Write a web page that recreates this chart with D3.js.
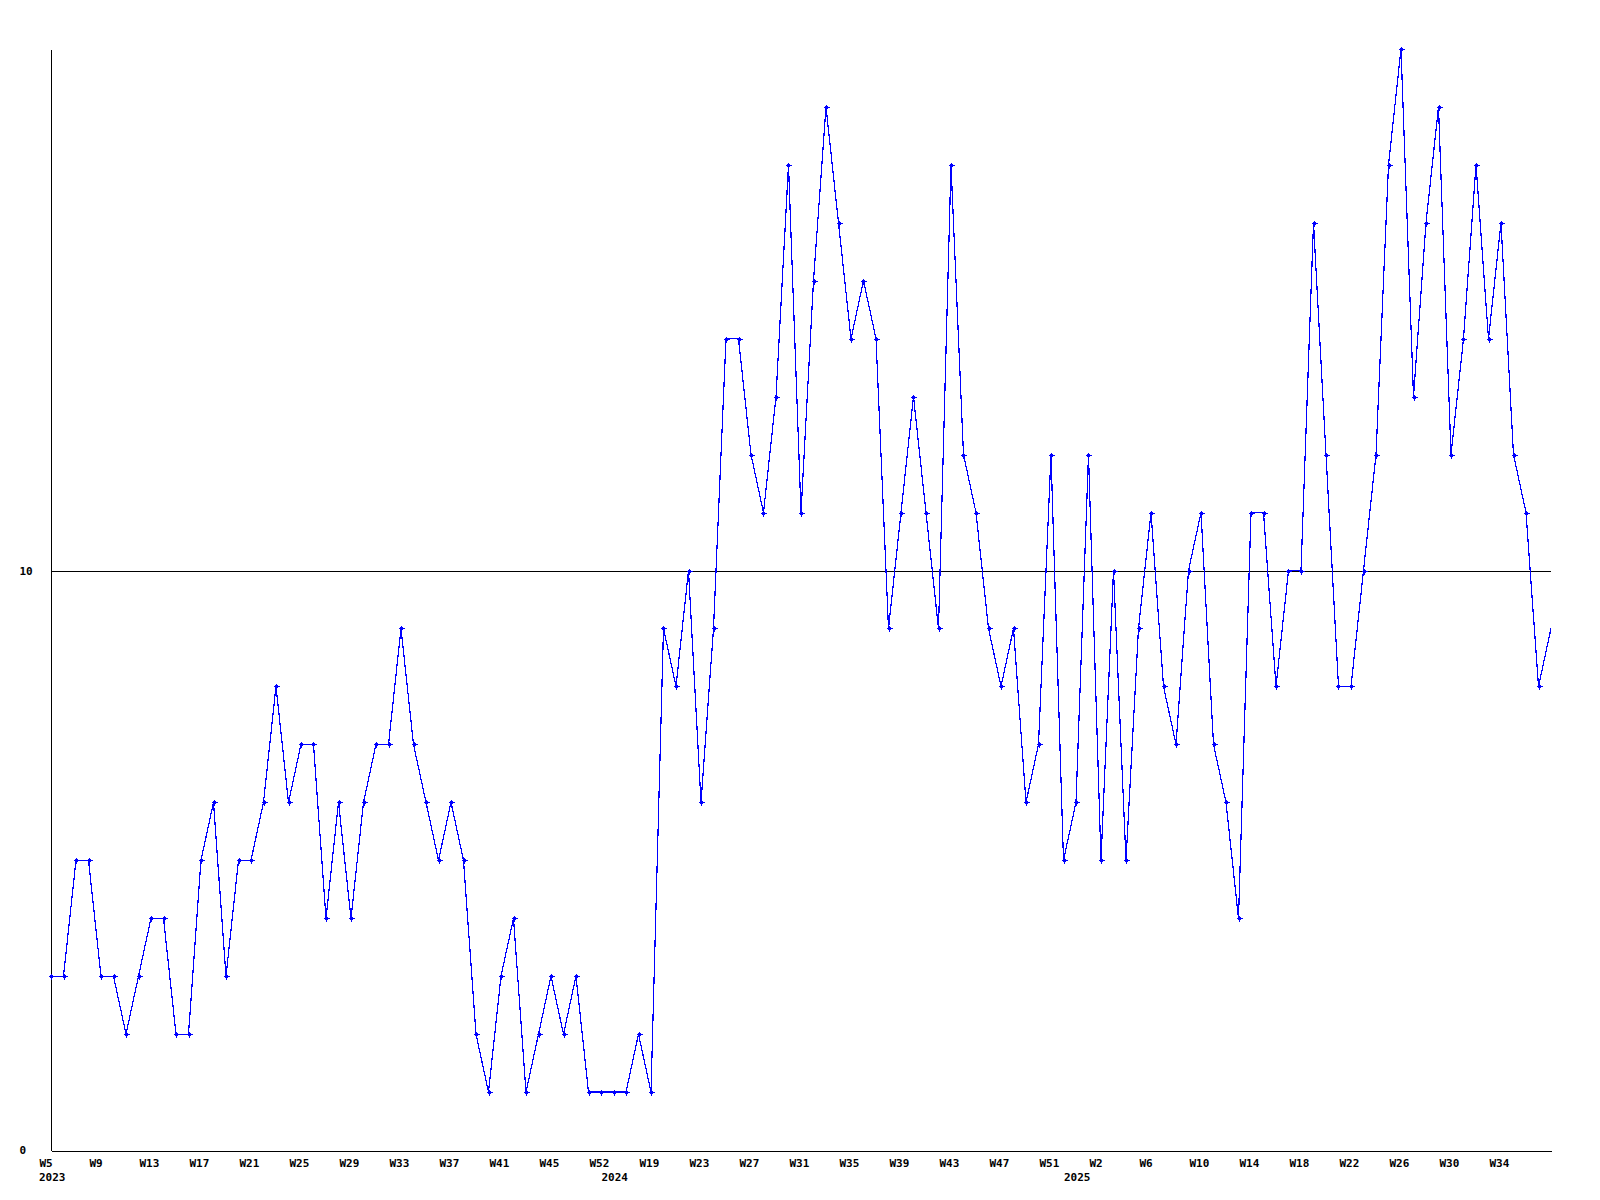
<!DOCTYPE html>
<html>
<head>
<meta charset="utf-8">
<script src="https://cdn.jsdelivr.net/npm/d3@7"></script>
<style>
  html, body { margin: 0; padding: 0; background: #fff; }
  svg { display: block; }
  text { font-family: "DejaVu Sans Mono", monospace; font-weight: bold; font-size: 11px; fill: #000; }
</style>
</head>
<body>
<svg id="chart" width="1600" height="1200"></svg>
<script>
// ---- data ----
const values = [
  3,3,5,5,3,3,2,3,4,4,
  2,2,5,6,3,5,5,6,8,6,
  7,7,4,6,4,6,7,7,9,7,
  6,5,6,5,2,1,3,4,1,2,
  3,2,3,1,1,1,1,2,1,9,
  8,10,6,9,14,14,12,11,13,17,
  11,15,18,16,14,15,14,9,11,13,
  11,9,17,12,11,9,8,9,6,7,
  12,5,6,12,5,10,5,9,11,8,
  7,10,11,7,6,4,11,11,8,10,
  10,16,12,8,8,10,12,17,19,13,
  16,18,12,14,17,14,16,12,11,8,
  9
];
const tickLabels = ["W5","W9","W13","W17","W21","W25","W29","W33","W37","W41","W45","W52",
  "W19","W23","W27","W31","W35","W39","W43","W47","W51",
  "W2","W6","W10","W14","W18","W22","W26","W30","W34"];
const tickEvery = 4;
const yearLabels = ["2023","2024","2025"];
const yearStartIndex = [0,45,82];
const yTicks = [0,10];
const yMax = 19;
const refLine = 10;

// ---- layout ----
const plotLeft = 51, plotRight = 1551, plotTop = 49, plotBottom = 1150;
const svg = d3.select("#chart");

const x = d3.scaleLinear().domain([0, values.length - 1]).range([plotLeft, plotRight]);
const y = d3.scaleLinear().domain([0, yMax]).range([plotBottom, plotTop]);

const defs = svg.append("defs");
defs.append("clipPath").attr("id", "plot")
  .append("rect").attr("x", plotLeft).attr("y", 0).attr("width", plotRight - plotLeft).attr("height", plotBottom + 1);
defs.append("clipPath").attr("id", "plotm")
  .append("rect").attr("x", 0).attr("y", 0).attr("width", plotRight - 3).attr("height", plotBottom + 1);

// reference line at 10
svg.append("line")
  .attr("x1", plotLeft).attr("x2", plotRight)
  .attr("y1", Math.round(y(refLine)) + 0.5).attr("y2", Math.round(y(refLine)) + 0.5)
  .attr("stroke", "#000").attr("stroke-width", 1).attr("shape-rendering", "crispEdges");

// x axis
const tickIdx = tickLabels.map((_, i) => i * tickEvery);
const xAxis = d3.axisBottom(x)
  .tickValues(tickIdx)
  .tickFormat((d, i) => tickLabels[i])
  .tickSize(0).tickSizeOuter(0).tickPadding(0);
const gx = svg.append("g").attr("transform", `translate(0,${plotBottom + 0.5})`).call(xAxis);
gx.select(".domain").attr("stroke", "#000").attr("shape-rendering", "crispEdges");
gx.selectAll(".tick text")
  .attr("text-anchor", "start").attr("dx", -12).attr("dy", 0).attr("y", 16)
  .style("font-family", '"DejaVu Sans Mono", monospace').style("font-size", "11px").style("font-weight", "bold");

// year labels
svg.append("g").selectAll("text").data(yearLabels).join("text")
  .attr("x", (d, i) => x(yearStartIndex[i]) - 12)
  .attr("y", plotBottom + 31)
  .attr("text-anchor", "start")
  .text(d => d);

// y axis
const yAxis = d3.axisLeft(y).tickValues(yTicks).tickFormat(d3.format("d"))
  .tickSize(0).tickSizeOuter(0).tickPadding(0);
const gy = svg.append("g").attr("transform", `translate(${plotLeft - 0.5},0)`).call(yAxis);
gy.select(".domain").attr("stroke", "#000").attr("shape-rendering", "crispEdges");
gy.selectAll(".tick text")
  .attr("text-anchor", "start").attr("x", 20 - plotLeft).attr("dy", "0.35em")
  .style("font-family", '"DejaVu Sans Mono", monospace').style("font-size", "11px").style("font-weight", "bold");

// line
const line = d3.line().x((d, i) => x(i)).y(d => y(d));
svg.append("path")
  .datum(values)
  .attr("clip-path", "url(#plot)")
  .attr("d", line)
  .attr("fill", "none")
  .attr("stroke", "#0000ff")
  .attr("stroke-width", 1.2)
  .attr("shape-rendering", "crispEdges");

// markers
const mg = svg.append("g").attr("clip-path", "url(#plotm)");
const pts = mg.selectAll("g.pt").data(values).join("g")
  .attr("class", "pt")
  .attr("transform", (d, i) => `translate(${Math.round(x(i)) + 0.5},${Math.round(y(d)) + 0.5})`);
pts.append("path")
  .attr("d", "M-3,0H3M0,-3V3")
  .attr("stroke", "#0000ff").attr("stroke-width", 1).attr("shape-rendering", "crispEdges");
pts.append("rect")
  .attr("x", -1.5).attr("y", -1.5).attr("width", 3).attr("height", 3)
  .attr("fill", "#0000ff").attr("shape-rendering", "crispEdges");
</script>
</body>
</html>
